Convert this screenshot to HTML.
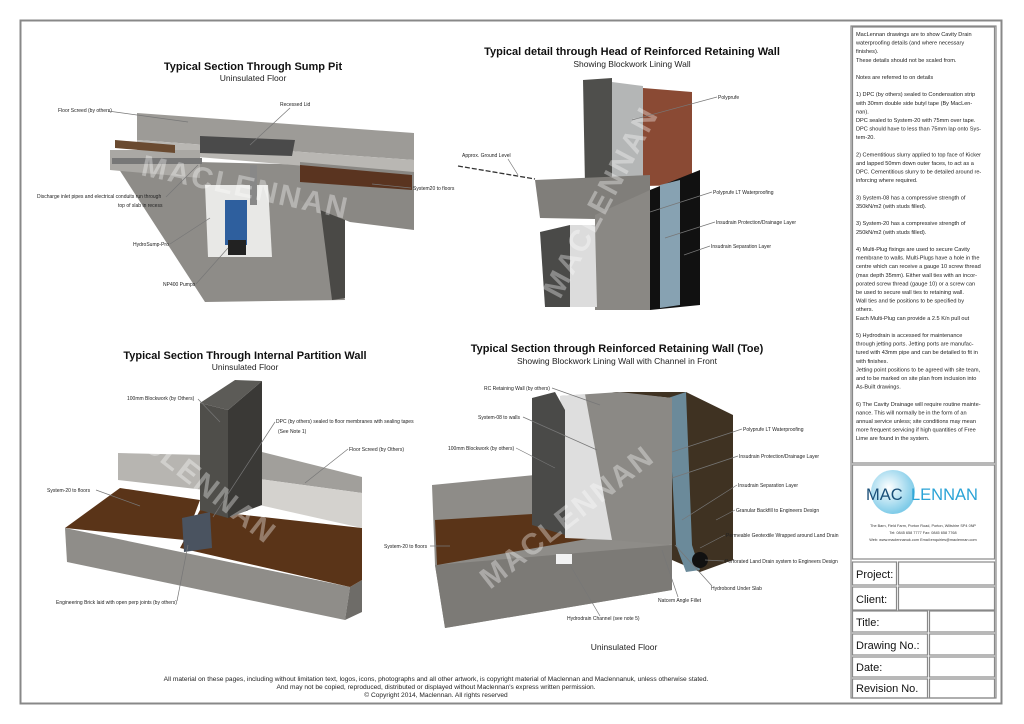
<!DOCTYPE html>
<html><head><meta charset="utf-8"><style>
body{margin:0;background:#fff;}
svg{display:block;font-family:"Liberation Sans",Arial,sans-serif;}
.t{font-weight:bold;font-size:11px;text-anchor:middle;fill:#111}
.s{font-size:8.5px;text-anchor:middle;fill:#222}
.l{font-size:5px;fill:#222}
.n{font-size:5.6px;fill:#222}
.ln{stroke:#777;stroke-width:0.7;fill:none}
.wm{font-size:30px;font-weight:bold;fill:#fff;opacity:0.35;letter-spacing:2px}
.b{font-size:11px;fill:#111}
</style></head><body>
<svg width="1024" height="724" viewBox="0 0 1024 724">
<rect x="20.5" y="20.5" width="981" height="683" fill="#fff" stroke="#888" stroke-width="2"/>

<!-- ============ Sump pit ============ -->
<text class="t" x="253" y="70">Typical Section Through Sump Pit</text>
<text class="s" x="253" y="81">Uninsulated Floor</text>
<polygon points="113,160 320,165 345,300 205,302" fill="#8e8c88"/>
<polygon points="320,205 345,212 345,298 332,300" fill="#4a4946"/>
<polygon points="137,113 414,133 414,160 137,140" fill="#9d9b97"/>
<polygon points="137,140 414,160 414,175 137,152" fill="#b9b7b3"/>
<polygon points="110,150 200,150 200,178 110,170" fill="#aaa8a4"/>
<polygon points="300,162 414,172 414,230 350,222 320,210 300,200" fill="#8a8884"/>
<polygon points="300,165 412,175 412,190 300,182" fill="#5a3420"/>
<polygon points="115,140 175,145 175,153 115,148" fill="#6a4a30"/>
<polygon points="200,136 295,140 292,156 200,153" fill="#4a4a4a"/>
<polygon points="205,185 268,185 272,257 208,257" fill="#e8e8e6"/>
<rect x="225" y="200" width="22" height="45" fill="#2e5f9e"/>
<rect x="228" y="240" width="18" height="15" fill="#222"/>
<rect x="112" y="158" width="90" height="6" fill="#777"/>
<rect x="250" y="165" width="7" height="40" fill="#888"/>
<text class="wm" x="140" y="175" transform="rotate(12 140 175)">MACLENNAN</text>
<text class="l" x="58" y="112">Floor Screed (by others)</text><line class="ln" x1="108" y1="111" x2="188" y2="122"/>
<text class="l" x="280" y="106">Recessed Lid</text><line class="ln" x1="290" y1="108" x2="250" y2="145"/>
<text class="l" x="37" y="198">Discharge inlet pipes and electrical conduits run through</text>
<text class="l" x="118" y="207">top of slab in recess</text><line class="ln" x1="166" y1="197" x2="198" y2="165"/>
<text class="l" x="413" y="190">System20 to floors</text><line class="ln" x1="411" y1="188" x2="372" y2="184"/>
<text class="l" x="133" y="246">HydroSump-Pro</text><line class="ln" x1="170" y1="244" x2="210" y2="218"/>
<text class="l" x="163" y="286">NP400 Pumps</text><line class="ln" x1="196" y1="284" x2="228" y2="248"/>

<!-- ============ Head of wall ============ -->
<text class="t" x="632" y="55">Typical detail through Head of Reinforced Retaining Wall</text>
<text class="s" x="632" y="67">Showing Blockwork Lining Wall</text>
<polygon points="583,80 612,78 612,185 585,185" fill="#4f4f4c"/>
<polygon points="612,82 643,86 643,186 612,185" fill="#b4b6b6"/>
<polygon points="643,88 692,92 692,185 643,186" fill="#8a4a34"/>
<polygon points="535,180 650,175 650,220 540,218" fill="#807e7a"/>
<polygon points="595,215 650,190 650,310 595,310" fill="#8a8884"/>
<polygon points="650,190 700,170 700,305 650,310" fill="#111"/>
<polygon points="660,185 680,180 680,305 660,308" fill="#87a2b2"/>
<polygon points="540,232 570,225 570,307 545,307" fill="#4a4a48"/>
<polygon points="570,225 595,225 597,307 570,307" fill="#dcdcdc"/>
<text class="wm" x="560" y="300" transform="rotate(-62 560 300)">MACLENNAN</text>
<text class="l" x="718" y="99">Polyprufe</text><line class="ln" x1="717" y1="97" x2="632" y2="120"/>
<text class="l" x="462" y="157">Approx. Ground Level</text><line class="ln" x1="508" y1="159" x2="518" y2="175"/>
<line x1="458" y1="166" x2="535" y2="179" stroke="#333" stroke-width="1.3" stroke-dasharray="5,2"/>
<text class="l" x="713" y="194">Polyprufe LT Waterproofing</text><line class="ln" x1="712" y1="192" x2="650" y2="212"/>
<text class="l" x="716" y="224">Insudrain Protection/Drainage Layer</text><line class="ln" x1="715" y1="222" x2="665" y2="238"/>
<text class="l" x="711" y="248">Insudrain Separation Layer</text><line class="ln" x1="710" y1="246" x2="684" y2="255"/>

<!-- ============ Partition wall ============ -->
<text class="t" x="245" y="359">Typical Section Through Internal Partition Wall</text>
<text class="s" x="245" y="370">Uninsulated Floor</text>
<polygon points="65,528 350,587 345,620 67,562" fill="#8f8d89"/>
<polygon points="350,587 362,580 362,612 345,620" fill="#6e6c68"/>
<polygon points="65,528 120,488 200,500 185,540" fill="#5a3418"/>
<polygon points="200,510 362,528 362,580 350,587 180,548" fill="#5a3418"/>
<polygon points="118,453 205,455 205,490 118,480" fill="#b7b5b1"/>
<polygon points="237,460 262,452 362,477 362,493 237,476" fill="#a19f9b"/>
<polygon points="237,476 362,493 362,528 237,500" fill="#d4d2ce"/>
<polygon points="200,403 228,410 228,518 200,510" fill="#4f4e4a"/>
<polygon points="228,410 262,381 262,505 228,518" fill="#3a3936"/>
<polygon points="200,403 235,380 262,381 228,410" fill="#5c5b57"/>
<polygon points="182,518 210,512 212,548 184,552" fill="#4a5360"/>
<text class="wm" x="100" y="415" transform="rotate(38 100 415)">MACLENNAN</text>
<text class="l" x="127" y="400">100mm Blockwork (by Others)</text><line class="ln" x1="198" y1="399" x2="220" y2="422"/>
<text class="l" x="276" y="423">DPC (by others) sealed to floor membranes with sealing tapes</text>
<text class="l" x="278" y="433">(See Note 1)</text><line class="ln" x1="275" y1="422" x2="213" y2="517"/>
<text class="l" x="349" y="451">Floor Screed (by Others)</text><line class="ln" x1="348" y1="449" x2="305" y2="483"/>
<text class="l" x="47" y="492">System-20 to floors</text><line class="ln" x1="96" y1="490" x2="140" y2="506"/>
<text class="l" x="56" y="604">Engineering Brick laid with open perp joints (by others)</text><line class="ln" x1="177" y1="601" x2="188" y2="545"/>

<!-- ============ Toe ============ -->
<text class="t" x="617" y="352">Typical Section through Reinforced Retaining Wall (Toe)</text>
<text class="s" x="617" y="364">Showing Blockwork Lining Wall with Channel in Front</text>
<polygon points="432,485 535,475 610,535 672,545 672,590 445,628 435,565" fill="#8e8c88"/>
<polygon points="435,565 672,545 672,590 445,628" fill="#7c7a76"/>
<polygon points="435,520 565,512 610,535 437,565" fill="#5a3418"/>
<polygon points="612,392 686,392 733,415 733,560 700,572 672,560 672,398" fill="#3f3222"/>
<polygon points="668,398 686,392 692,545 700,570 686,572 676,545" fill="#6b8a9a"/>
<polygon points="560,396 620,392 672,398 672,545 612,540" fill="#8b8985"/>
<polygon points="560,396 585,394 612,540 565,538" fill="#dedede"/>
<polygon points="532,398 555,392 565,410 565,535 532,525" fill="#4a4a48"/>
<circle cx="700" cy="560" r="8" fill="#111"/>
<rect x="556" y="554" width="16" height="10" fill="#f2f2f2"/>
<text class="wm" x="490" y="590" transform="rotate(-38 490 590)">MACLENNAN</text>
<text class="l" x="484" y="390">RC Retaining Wall (by others)</text><line class="ln" x1="552" y1="388" x2="600" y2="405"/>
<text class="l" x="478" y="419">System-08 to walls</text><line class="ln" x1="523" y1="417" x2="597" y2="450"/>
<text class="l" x="448" y="450">100mm Blockwork (by others)</text><line class="ln" x1="516" y1="448" x2="555" y2="468"/>
<text class="l" x="743" y="431">Polyprufe LT Waterproofing</text><line class="ln" x1="742" y1="429" x2="672" y2="452"/>
<text class="l" x="739" y="458">Insudrain Protection/Drainage Layer</text><line class="ln" x1="738" y1="456" x2="672" y2="478"/>
<text class="l" x="738" y="487">Insudrain Separation Layer</text><line class="ln" x1="737" y1="485" x2="682" y2="520"/>
<text class="l" x="736" y="512">Granular Backfill to Engineers Design</text><line class="ln" x1="735" y1="510" x2="716" y2="520"/>
<text class="l" x="726" y="537">Permeable Geotextile Wrapped around Land Drain</text><line class="ln" x1="725" y1="535" x2="700" y2="548"/>
<text class="l" x="725" y="563">Perforated Land Drain system to Engineers Design</text><line class="ln" x1="724" y1="561" x2="705" y2="560"/>
<text class="l" x="711" y="590">Hydrobond Under Slab</text><line class="ln" x1="712" y1="586" x2="675" y2="545"/>
<text class="l" x="658" y="602">Natcem Angle Fillet</text><line class="ln" x1="678" y1="597" x2="662" y2="550"/>
<text class="l" x="567" y="620">Hydrodrain Channel (see note 5)</text><line class="ln" x1="600" y1="616" x2="570" y2="565"/>
<text class="l" x="384" y="548">System-20 to floors</text><line class="ln" x1="430" y1="546" x2="450" y2="546"/>
<text class="s" x="624" y="650">Uninsulated Floor</text>

<!-- footer -->
<text x="436" y="681" font-size="6.6" text-anchor="middle" fill="#222">All material on these pages, including without limitation text, logos, icons, photographs and all other artwork, is copyright material of Maclennan and Maclennanuk, unless otherwise stated.</text>
<text x="436" y="689" font-size="6.6" text-anchor="middle" fill="#222">And may not be copied, reproduced, distributed or displayed without Maclennan's express written permission.</text>
<text x="436" y="697" font-size="6.6" text-anchor="middle" fill="#222">© Copyright 2014, Maclennan.  All rights reserved</text>

<!-- right panel -->
<g fill="none" stroke="#888" stroke-width="1.2">
<rect x="851" y="26" width="145" height="672"/>
<rect x="852.5" y="27" width="142" height="436"/>
<rect x="852.5" y="465" width="142" height="94"/>
<rect x="852.5" y="562" width="44" height="23"/><rect x="898.5" y="562" width="96" height="23"/>
<rect x="852.5" y="587" width="44" height="23"/><rect x="898.5" y="587" width="96" height="23"/>
<rect x="852.5" y="611" width="75" height="21"/><rect x="929.5" y="611" width="65" height="21"/>
<rect x="852.5" y="634" width="75" height="21"/><rect x="929.5" y="634" width="65" height="21"/>
<rect x="852.5" y="657" width="75" height="20"/><rect x="929.5" y="657" width="65" height="20"/>
<rect x="852.5" y="679" width="75" height="19"/><rect x="929.5" y="679" width="65" height="19"/>
</g>
<g class="n">
<text x="856" y="36">MacLennan drawings are to show Cavity Drain</text>
<text x="856" y="44.6">waterproofing details (and where necessary</text>
<text x="856" y="53.2">finishes).</text>
<text x="856" y="61.8">These details should not be scaled from.</text>
<text x="856" y="79">Notes are referred to on details</text>
<text x="856" y="96.2">1) DPC (by others) sealed to Condensation strip</text>
<text x="856" y="104.8">with 30mm double side butyl tape (By MacLen-</text>
<text x="856" y="113.4">nan).</text>
<text x="856" y="122">DPC sealed to System-20 with 75mm over tape.</text>
<text x="856" y="130.6">DPC should have to less than 75mm lap onto Sys-</text>
<text x="856" y="139.2">tem-20.</text>
<text x="856" y="156.4">2) Cementitious slurry applied to top face of Kicker</text>
<text x="856" y="165">and lapped 50mm down outer faces, to act as a</text>
<text x="856" y="173.6">DPC. Cementitious slurry to be detailed around re-</text>
<text x="856" y="182.2">inforcing where required.</text>
<text x="856" y="199.4">3) System-08 has a compressive strength of</text>
<text x="856" y="208">350kN/m2 (with studs filled).</text>
<text x="856" y="225.2">3) System-20 has a compressive strength of</text>
<text x="856" y="233.8">250kN/m2 (with studs filled).</text>
<text x="856" y="251">4) Multi-Plug fixings are used to secure Cavity</text>
<text x="856" y="259.6">membrane to walls. Multi-Plugs have a hole in the</text>
<text x="856" y="268.2">centre which can receive a gauge 10 screw thread</text>
<text x="856" y="276.8">(max depth 35mm). Either wall ties with an incor-</text>
<text x="856" y="285.4">porated screw thread (gauge 10) or a screw can</text>
<text x="856" y="294">be used to secure wall ties to retaining wall.</text>
<text x="856" y="302.6">Wall ties and tie positions to be specified by</text>
<text x="856" y="311.2">others.</text>
<text x="856" y="319.8">Each Multi-Plug can provide a 2.5 K/n pull out</text>
<text x="856" y="337">5) Hydrodrain is accessed for maintenance</text>
<text x="856" y="345.6">through jetting ports. Jetting ports are manufac-</text>
<text x="856" y="354.2">tured with 43mm pipe and can be detailed to fit in</text>
<text x="856" y="362.8">with finishes.</text>
<text x="856" y="371.4">Jetting point positions to be agreed with site team,</text>
<text x="856" y="380">and to be marked on site plan from inclusion into</text>
<text x="856" y="388.6">As-Built drawings.</text>
<text x="856" y="405.8">6) The Cavity Drainage will require routine mainte-</text>
<text x="856" y="414.4">nance. This will normally be in the form of an</text>
<text x="856" y="423">annual service unless; site conditions may mean</text>
<text x="856" y="431.6">more frequent servicing if high quantities of Free</text>
<text x="856" y="440.2">Lime are found in the system.</text>
</g>
<defs><radialGradient id="g" cx="0.4" cy="0.4" r="0.6"><stop offset="0" stop-color="#ffffff"/><stop offset="1" stop-color="#7fcbe8"/></radialGradient></defs>
<circle cx="893" cy="492" r="22" fill="url(#g)"/>
<text x="866" y="500" font-size="16.5" fill="#1a4f78">MAC</text>
<text x="911" y="500" font-size="16.5" fill="#2aa3d6">LENNAN</text>
<text x="923" y="527" font-size="3.8" text-anchor="middle" fill="#333">The Barn, Field Farm, Porton Road, Porton, Wiltshire SP4 0NP</text>
<text x="923" y="534" font-size="3.8" text-anchor="middle" fill="#333">Tel: 0845 658 7777   Fax: 0845 658 7768</text>
<text x="923" y="541" font-size="3.8" text-anchor="middle" fill="#333">Web: www.maclennanuk.com  Email:enquiries@maclennan.com</text>
<text class="b" x="856" y="578">Project:</text>
<text class="b" x="856" y="603">Client:</text>
<text class="b" x="856" y="626">Title:</text>
<text class="b" x="856" y="649">Drawing No.:</text>
<text class="b" x="856" y="671">Date:</text>
<text class="b" x="856" y="692">Revision No.</text>
</svg>
</body></html>
